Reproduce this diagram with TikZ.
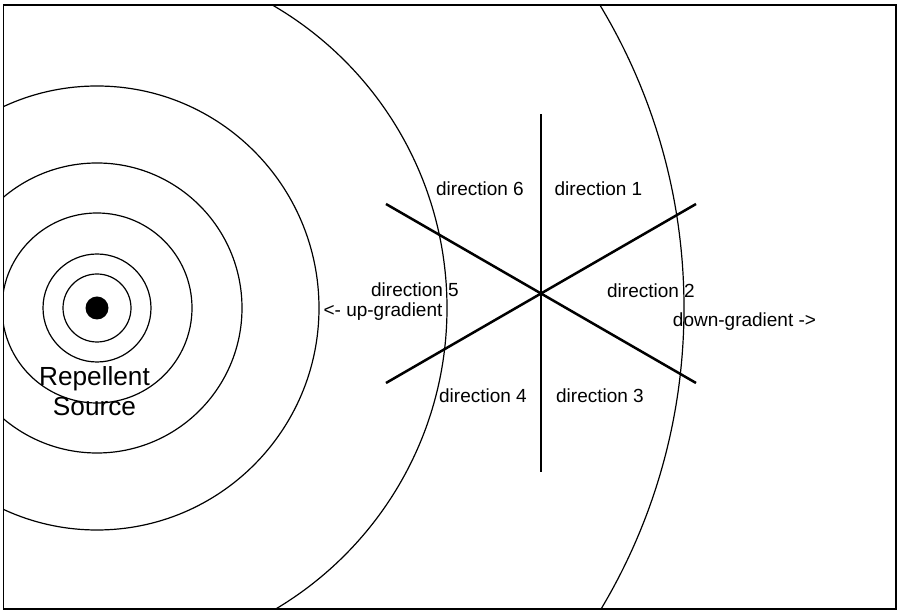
\documentclass[tikz,border=0pt]{standalone}
\usepackage{fontspec}
\setmainfont{Liberation Sans}
\usepackage{xcolor}
\usetikzlibrary{positioning,calc}
\tikzset{
  rg-frame/.style={draw=black, line width=0.65pt},
  rg-ring/.style={draw=black, line width=0.6pt},
  rg-axis/.style={draw=black, line width=1.25pt},
  rg-label/.style={font=\fontsize{9.5}{11.4}\selectfont, inner sep=0pt,
    anchor=base},
  rg-title/.style={font=\fontsize{13.1}{15}\selectfont, inner sep=0pt,
    align=center}
}
\begin{document}
\begin{tikzpicture}[x=0.5pt, y=0.5pt]
\useasboundingbox (0,0) rectangle (900,610);

% Frame
\coordinate (fsw) at (3.5,1);
\coordinate (fne) at (896,605);

% Rings round the source
\coordinate (src) at (97,302);
\begin{scope}
  \clip (fsw) rectangle (fne);
  \foreach \r in {34,54,95,145,222,350,587}
    \draw[rg-ring] (src) circle[radius=\r];
\end{scope}
\fill (src) circle[radius=11.5];
\draw[rg-frame] (fsw) rectangle (fne);

% Repellent source
\node[rg-title] (srclbl) at (94.5,219) {Repellent\\Source};

% Hexagonal star of directions
\coordinate (hub) at (541,316.5);
\foreach \i/\a in {1/90,2/30,3/-30,4/-90,5/-150,6/150}
  \coordinate (d\i) at ($(hub)+(\a:179)$);
\draw[rg-axis] (d1) -- (d4);
\draw[rg-axis] (d2) -- (d5);
\draw[rg-axis] (d3) -- (d6);

% Direction labels
\node[rg-label] (lbl1) at (598.5,414) {direction 1};
\node[rg-label] (lbl6) at (480,414) {direction 6};
\node[rg-label] (lbl2) at (651,312) {direction 2};
\node[rg-label] (lbl5) at (415,313) {direction 5};
\node[rg-label] (lbl3) at (600,207) {direction 3};
\node[rg-label] (lbl4) at (483,207) {direction 4};

% Gradient
\node[rg-label] (up) at (383,293) {<- up-gradient};
\node[rg-label] (down) at (744.5,283) {down-gradient ->};
\end{tikzpicture}
\end{document}
